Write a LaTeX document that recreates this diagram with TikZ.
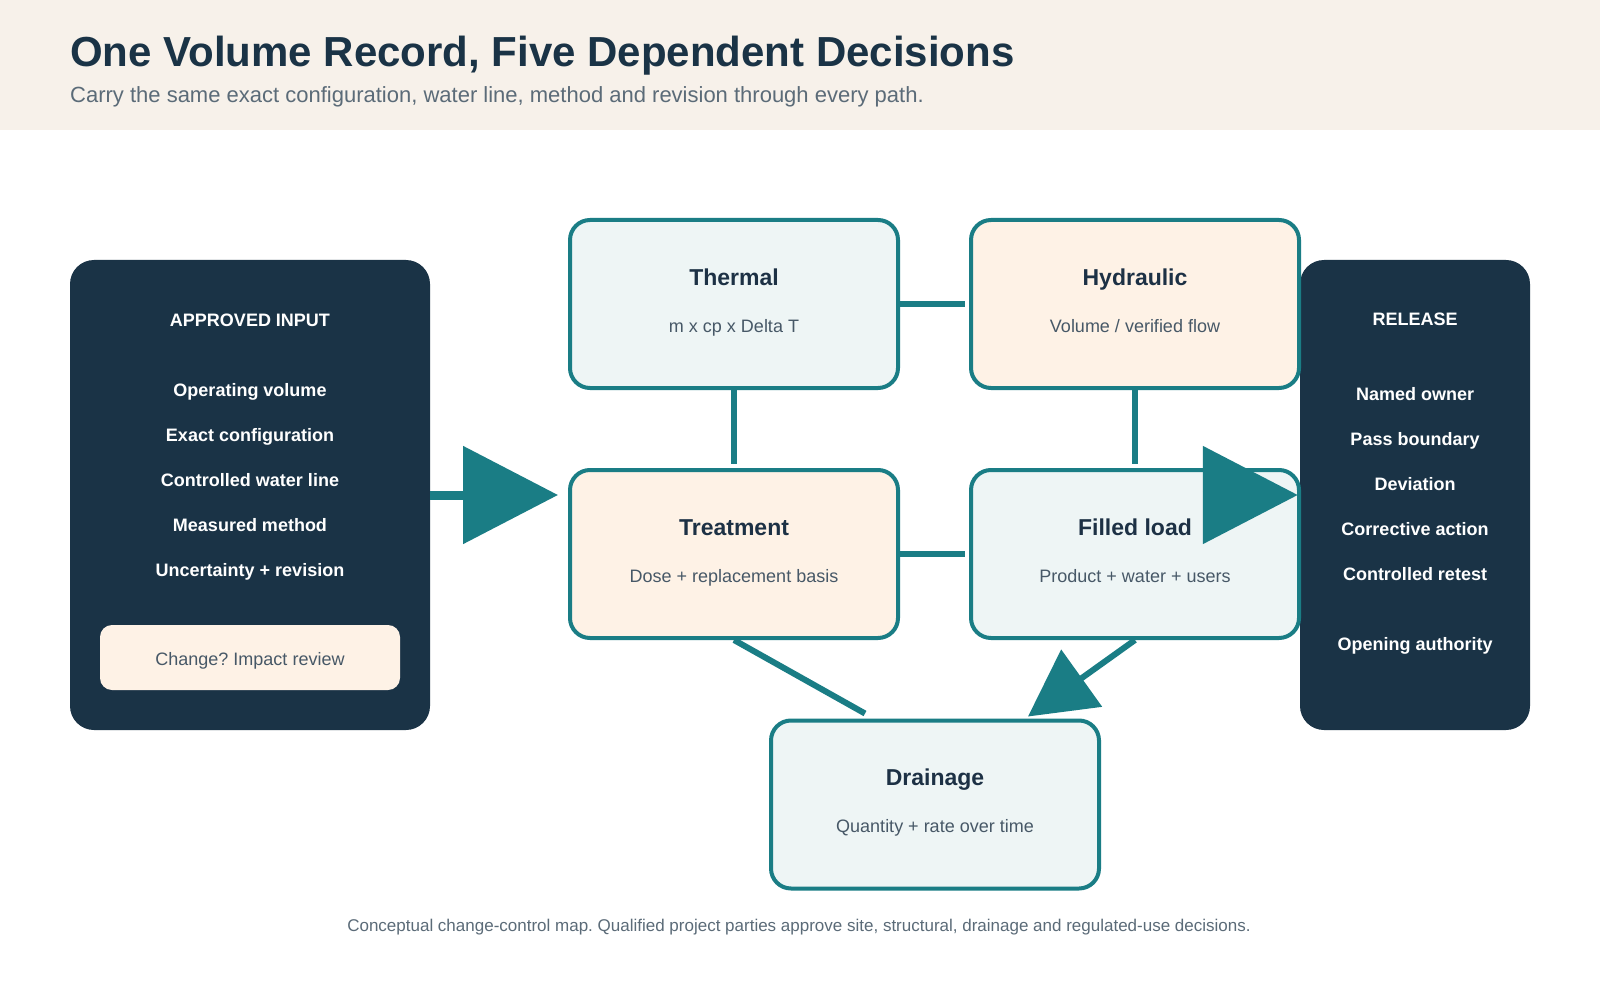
\documentclass[tikz,border=0pt]{standalone}
\usepackage{fontspec}
\setmainfont{Liberation Sans}
\usetikzlibrary{arrows.meta,calc}
\frenchspacing

\definecolor{navy}{HTML}{1A3346}
\definecolor{ink}{HTML}{1D3145}
\definecolor{slate}{HTML}{475867}
\definecolor{greytext}{HTML}{5B6B78}
\definecolor{tealline}{HTML}{1A7D85}
\definecolor{headband}{HTML}{F7F1EA}
\definecolor{coolfill}{HTML}{EEF5F5}
\definecolor{warmfill}{HTML}{FEF2E6}

\begin{document}
\begin{tikzpicture}[x=1pt,y=-1pt,
	panel/.style={fill=navy, rounded corners=24pt, inner sep=0pt, minimum height=470pt},
	stagebox/.style={draw=tealline, line width=4pt, rounded corners=20pt,
		minimum width=328pt, minimum height=168pt, inner sep=0pt},
	stagetitle/.style={anchor=base, inner sep=0pt, text=ink,
		font=\fontsize{23}{27}\selectfont\bfseries},
	stagenote/.style={anchor=base, inner sep=0pt, text=slate,
		font=\fontsize{18}{22}\selectfont},
	paneltext/.style={anchor=base, inner sep=0pt, text=white,
		font=\fontsize{18}{22}\selectfont\bfseries},
	link/.style={draw=tealline, line width=6pt},
	bigarrow/.style={draw=tealline, line width=9pt, -{Triangle[length=95pt,width=96pt]}},
	smallarrow/.style={link, -{Triangle[length=66pt,width=69pt]}},
]

	% page and header band
	\useasboundingbox[fill=white] (0,0) rectangle (1600,1000);
	\fill[headband] (0,0) rectangle (1600,130);

	\node[anchor=base west, inner sep=0pt, text=navy,
		font=\fontsize{42}{48}\selectfont\bfseries] (title) at (70,67)
		{One Volume Record, Five Dependent Decisions};
	\node[anchor=base west, inner sep=0pt, text=greytext,
		font=\fontsize{22}{26}\selectfont] (subtitle) at (70,103)
		{Carry the same exact configuration, water line, method and revision through every path.};

	% approved input panel
	\node[panel, minimum width=360pt] (input) at (250,495) {};
	\node[paneltext] (inhead) at (250,326) {APPROVED INPUT};
	\foreach \t [count=\i] in {Operating volume, Exact configuration,
		Controlled water line, Measured method, Uncertainty + revision}
		\node[paneltext] (in\i) at (250,351+45*\i) {\t};
	\node[fill=warmfill, rounded corners=12pt, inner sep=0pt,
		minimum width=300pt, minimum height=65pt] (change) at (250,657.5) {};
	\node[anchor=base, inner sep=0pt, text=slate,
		font=\fontsize{18}{22}\selectfont] (changetext) at (250,665) {Change? Impact review};

	% release panel
	\node[panel, minimum width=230pt] (release) at (1415,495) {};
	\node[paneltext] (relhead) at (1415,325) {RELEASE};
	\foreach \t [count=\i] in {Named owner, Pass boundary, Deviation,
		Corrective action, Controlled retest}
		\node[paneltext] (rel\i) at (1415,355+45*\i) {\t};
	\node[paneltext] (rel6) at (1415,650) {Opening authority};

	% stages
	\node[stagebox, fill=coolfill] (therm) at (734,304) {};
	\node[stagetitle] (thermT) at ([yshift=19pt]therm.center) {Thermal};
	\node[stagenote] (thermN) at ([yshift=-28pt]therm.center) {m x cp x Delta T};

	\node[stagebox, fill=warmfill] (hyd) at (1135,304) {};
	\node[stagetitle] (hydT) at ([yshift=19pt]hyd.center) {Hydraulic};
	\node[stagenote] (hydN) at ([yshift=-28pt]hyd.center) {Volume / verified flow};

	\node[stagebox, fill=warmfill] (treat) at (734,554) {};
	\node[stagetitle] (treatT) at ([yshift=19pt]treat.center) {Treatment};
	\node[stagenote] (treatN) at ([yshift=-28pt]treat.center) {Dose + replacement basis};

	\node[stagebox, fill=coolfill] (load) at (1135,554) {};
	\node[stagetitle] (loadT) at ([yshift=19pt]load.center) {Filled load};
	\node[stagenote] (loadN) at ([yshift=-28pt]load.center) {Product + water + users};

	\node[stagebox, fill=coolfill] (drain) at (935,804.5) {};
	\node[stagetitle] (drainT) at ([yshift=19.5pt]drain.center) {Drainage};
	\node[stagenote] (drainN) at ([yshift=-27.5pt]drain.center) {Quantity + rate over time};

	% links between stages
	\draw[link, shorten >=4pt] (therm.east) -- (hyd.west);
	\draw[link, shorten >=4pt] (therm.south) -- (treat.north);
	\draw[link, shorten >=4pt] (hyd.south) -- (load.north);
	\draw[link, shorten >=4pt] (treat.east) -- (load.west);
	\draw[link] (treat.south) -- ([xshift=-70pt,yshift=5pt]drain.north);
	\draw[smallarrow] (load.south) -- ([xshift=93pt,yshift=2pt]drain.north);

	% in and out
	\draw[bigarrow, shorten >=10pt] (input.east) -- (input.east -| treat.west);
	\draw[bigarrow] ([xshift=-97pt]release.west) -- ([xshift=-2pt]release.west);

	% footnote
	\node[anchor=base, inner sep=0pt, text=greytext,
		font=\fontsize{17}{20}\selectfont] (note) at (799,931)
		{Conceptual change-control map. Qualified project parties approve site, structural, drainage and regulated-use decisions.};

\end{tikzpicture}
\end{document}
